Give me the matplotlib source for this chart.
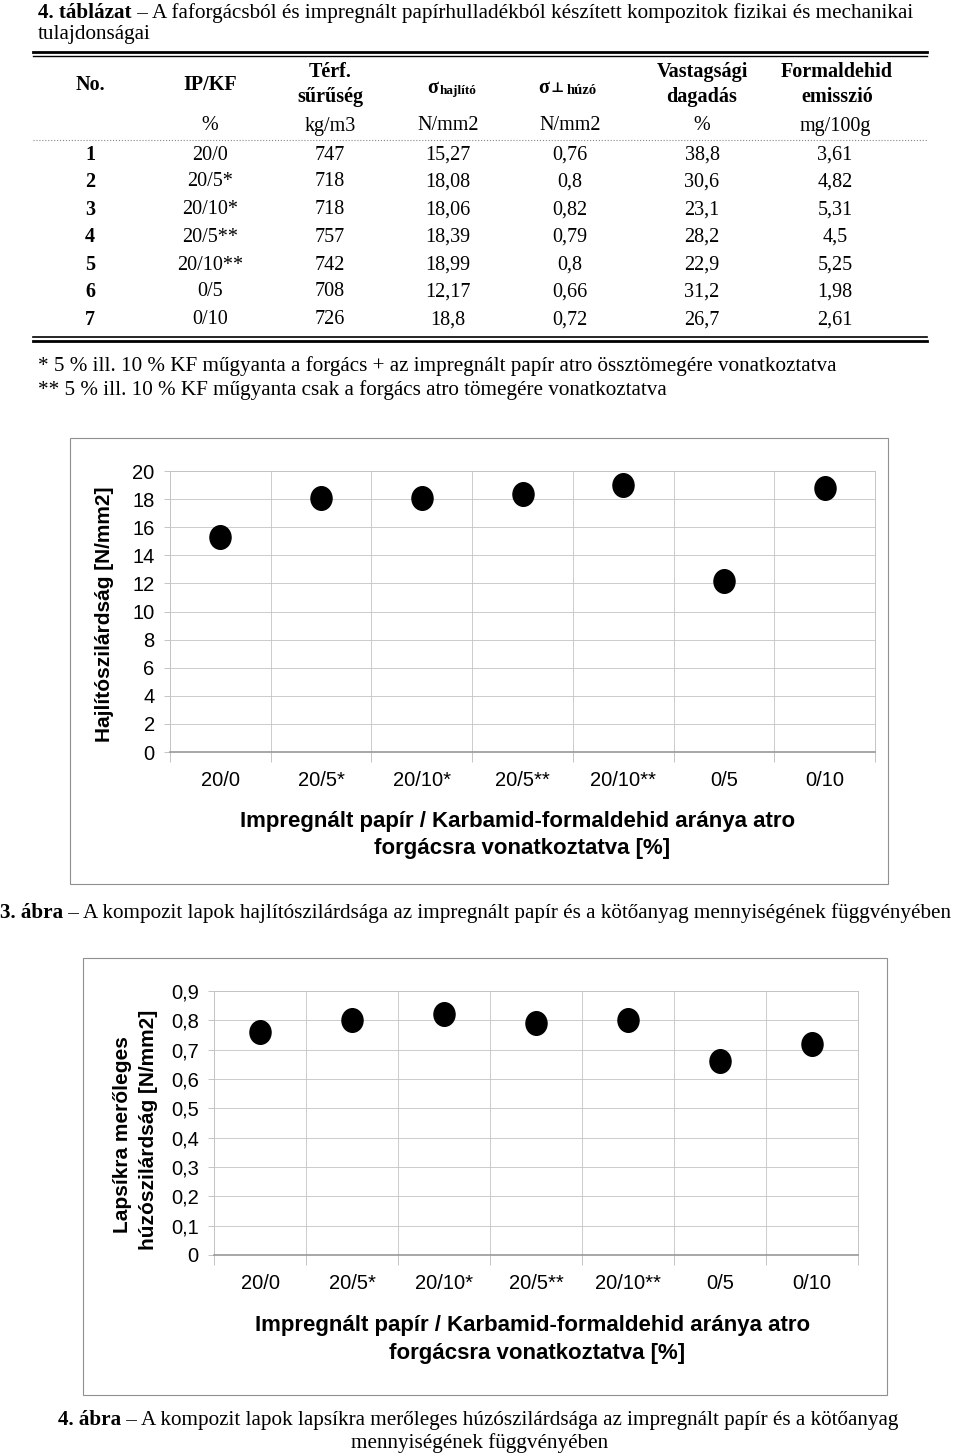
import numpy as np
import matplotlib
matplotlib.use("Agg")
import matplotlib.pyplot as plt
from matplotlib.path import Path
from matplotlib.lines import Line2D
from matplotlib.patches import Rectangle
from matplotlib.text import Annotation
from matplotlib.ticker import FuncFormatter

# table / chart data
row_no = ["1", "2", "3", "4", "5", "6", "7"]
ip_kf = ["20/0", "20/5*", "20/10*", "20/5**", "20/10**", "0/5", "0/10"]
density = ["747", "718", "718", "757", "742", "708", "726"]
bending = [15.27, 18.08, 18.06, 18.39, 18.99, 12.17, 18.8]
tensile = [0.76, 0.8, 0.82, 0.79, 0.8, 0.66, 0.72]
swelling = ["38,8", "30,6", "23,1", "28,2", "22,9", "31,2", "26,7"]
formaldehyde = ["3,61", "4,82", "5,31", "4,5", "5,25", "1,98", "2,61"]
units = ["%", "kg/m3", "N/mm2", "N/mm2", "%", "mg/100g"]

W, H = 960, 1456
fig = plt.figure(figsize=(W / 100, H / 100), dpi=100)

SERIF = ["Liberation Serif", "DejaVu Serif"]
SANS = ["Liberation Sans", "DejaVu Sans"]
FS = 15.2      # body serif size
TS = 14.5      # table size


def fx(x):
    return x / W


def fy(y):
    return 1 - y / H


def hline(y, x0, x1, lw=1.0, color="black", ls="-"):
    fig.add_artist(Line2D([fx(x0), fx(x1)], [fy(y), fy(y)], lw=lw, color=color, ls=ls))


def rich(x, y, bold_part, rest, size=FS):
    # bold lead-in followed by regular text on the same baseline
    t = fig.text(fx(x), fy(y), bold_part, fontsize=size, family=SERIF,
                 weight="bold", va="bottom", ha="left")
    a = Annotation(rest, xy=(1, 0), xycoords=t, fontsize=size, family=SERIF,
                   va="bottom", ha="left", annotation_clip=False)
    fig.add_artist(a)
    return t


# ---- table title
rich(38, 23, "4. táblázat", " – A faforgácsból és impregnált papírhulladékból készített kompozitok fizikai és mechanikai")
fig.text(fx(38), fy(44), "tulajdonságai", fontsize=FS, family=SERIF, va="bottom")

# ---- table
x0, x1 = 33, 927
hline(52, x0, x1, lw=2.0)
hline(56, x0, x1, lw=1.0)
hline(140, x0, x1, lw=0.8, color="#888888", ls=":")
hline(337, x0, x1, lw=1.2)
hline(341, x0, x1, lw=2.0)

col_x = [90, 210, 330, 448, 570, 702, 835]
hdr = dict(fontsize=TS, family=SERIF, weight="bold", ha="center", va="center")
fig.text(fx(90), fy(85), "No.", **hdr)
fig.text(fx(210), fy(85), "IP/KF", **hdr)
fig.text(fx(330), fy(72), "Térf.", **hdr)
fig.text(fx(330), fy(97), "sűrűség", **hdr)
fig.text(fx(433), fy(88), "σ", **hdr)
fig.text(fx(440), fy(91), "hajlító", fontsize=9.5, family=SERIF, weight="bold",
         ha="left", va="center")
fig.text(fx(544), fy(88), "σ", **hdr)
fig.text(fx(551), fy(89), "⊥", fontsize=10, family=SERIF, weight="bold",
         ha="left", va="center")
fig.text(fx(567), fy(90), "húzó", fontsize=10.5, family=SERIF, weight="bold",
         ha="left", va="center")
fig.text(fx(702), fy(72), "Vastagsági", **hdr)
fig.text(fx(702), fy(97), "dagadás", **hdr)
fig.text(fx(837), fy(72), "Formaldehid", **hdr)
fig.text(fx(837), fy(97), "emisszió", **hdr)

for cx, u in zip(col_x[1:], units):
    fig.text(fx(cx), fy(126), u, fontsize=TS, family=SERIF, ha="center", va="center")

row_y = [155, 182, 210, 237, 265, 292, 320]
for i, ry in enumerate(row_y):
    fig.text(fx(col_x[0]), fy(ry), row_no[i], fontsize=TS, family=SERIF,
             weight="bold", ha="center", va="center")
    vals = [ip_kf[i], density[i], f"{bending[i]:g}".replace(".", ","),
            f"{tensile[i]:g}".replace(".", ","), swelling[i], formaldehyde[i]]
    for cx, v in zip(col_x[1:], vals):
        fig.text(fx(cx), fy(ry), v, fontsize=TS, family=SERIF, ha="center", va="center")

fig.text(fx(38), fy(366), "* 5 % ill. 10 % KF műgyanta a forgács + az impregnált papír atro össztömegére vonatkoztatva",
         fontsize=FS, family=SERIF, va="center")
fig.text(fx(38), fy(390), "** 5 % ill. 10 % KF műgyanta csak a forgács atro tömegére vonatkoztatva",
         fontsize=FS, family=SERIF, va="center")

# ---- marker: slightly tall ellipse
circ = Path.unit_circle()
ell = Path(circ.vertices * np.array([1.0, 1.12]), circ.codes)

GRID = "#c4c4c4"


def scatter_panel(rect_px, values, ymax, ystep, fmt):
    l, t, r, b = rect_px
    ax = fig.add_axes([fx(l), fy(b), (r - l) / W, (b - t) / H])
    x = np.arange(len(ip_kf))
    ax.plot(x, values, ls="none", marker=ell, ms=17, color="black", zorder=3)
    ax.set_xlim(-0.5, len(ip_kf) - 0.5)
    ax.set_ylim(0, ymax)
    ax.set_yticks(np.arange(0, ymax + ystep / 2, ystep))
    ax.yaxis.set_major_formatter(FuncFormatter(fmt))
    ax.set_xticks(x)
    ax.set_xticklabels(ip_kf)
    ax.set_xticks(np.arange(-0.5, len(ip_kf)), minor=True)
    ax.tick_params(axis="x", which="major", length=0, pad=14, labelsize=14.5)
    ax.tick_params(axis="x", which="minor", length=7, color=GRID, width=0.7)
    ax.tick_params(axis="y", length=4, color=GRID, width=0.7, pad=7, labelsize=14.5)
    for lab in ax.get_xticklabels() + ax.get_yticklabels():
        lab.set_family(SANS)
    ax.grid(True, axis="y", which="major", color=GRID, lw=0.6)
    ax.grid(True, axis="x", which="minor", color=GRID, lw=0.6)
    for s in ax.spines.values():
        s.set_color(GRID)
        s.set_linewidth(0.7)
    ax.spines["bottom"].set_color("#909090")
    ax.spines["bottom"].set_linewidth(1.1)
    ax.set_axisbelow(True)
    return ax


LBL = dict(family=SANS, weight="bold", ha="center", va="center")

# ---- figure 3
fig.add_artist(Rectangle((fx(70), fy(884)), (888 - 70) / W, (884 - 438) / H,
                         fill=False, ec="#909090", lw=0.8))
scatter_panel((170, 471, 875, 752), bending, 20, 2, lambda v, p: f"{v:g}")
fig.text(fx(105), fy(614), "Hajlítószilárdság [N/mm2]", rotation=90, fontsize=15, **LBL)
fig.text(fx(518), fy(821), "Impregnált papír / Karbamid-formaldehid aránya atro",
         fontsize=16, **LBL)
fig.text(fx(522), fy(848), "forgácsra vonatkoztatva [%]", fontsize=16, **LBL)

rich(0, 923, "3. ábra", " – A kompozit lapok hajlítószilárdsága az impregnált papír és a kötőanyag mennyiségének függvényében")

# ---- figure 4
fig.add_artist(Rectangle((fx(83), fy(1395)), (887 - 83) / W, (1395 - 958) / H,
                         fill=False, ec="#909090", lw=0.8))
scatter_panel((214, 991, 858, 1255), tensile, 0.9, 0.1,
              lambda v, p: f"{v:.1f}".replace(".", ",") if v > 0.001 else "0")
fig.text(fx(122), fy(1135), "Lapsíkra merőleges", rotation=90, fontsize=15, **LBL)
fig.text(fx(148), fy(1130), "húzószilárdság [N/mm2]", rotation=90, fontsize=15, **LBL)
fig.text(fx(533), fy(1325), "Impregnált papír / Karbamid-formaldehid aránya atro",
         fontsize=16, **LBL)
fig.text(fx(537), fy(1354), "forgácsra vonatkoztatva [%]", fontsize=16, **LBL)

rich(58, 1430, "4. ábra", " – A kompozit lapok lapsíkra merőleges húzószilárdsága az impregnált papír és a kötőanyag")
fig.text(fx(480), fy(1443), "mennyiségének függvényében", fontsize=FS, family=SERIF,
         ha="center", va="center")

fig.savefig("out.png", dpi=100)
